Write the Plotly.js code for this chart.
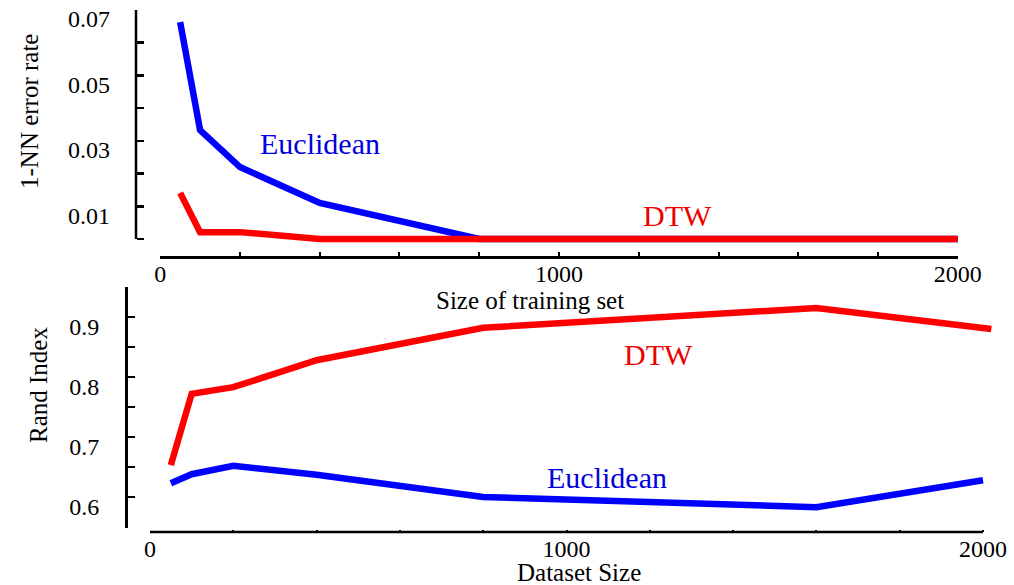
<!DOCTYPE html>
<html>
<head>
<meta charset="utf-8">
<script src="https://cdn.plot.ly/plotly-3.0.1.min.js"></script>
<style>html,body{margin:0;padding:0;background:#fff;}#chart{width:1014px;height:585px;}</style>
</head>
<body>
<div id="chart"></div>
<script>
// ---- data ----
const trainSize = [50, 100, 200, 400, 800, 1600, 2000];
const errEuclidean = [0.0663, 0.0333, 0.0220, 0.0110, 0, 0, 0];
const errDTW = [0.0141, 0.0021, 0.0021, 0, 0, 0, 0];

const dataSizeEuclid = [50, 100, 200, 400, 800, 1600, 2000];
const randEuclidean = [0.623, 0.638, 0.652, 0.637, 0.600, 0.583, 0.628];
const dataSizeDTW = [50, 100, 200, 400, 800, 1600, 2020];
const randDTW = [0.653, 0.772, 0.783, 0.828, 0.882, 0.915, 0.880];

const xTickVals = [0, 200, 400, 600, 800, 1000, 1200, 1400, 1600, 1800, 2000];
const xTickText = ['0', '', '', '', '', '1000', '', '', '', '', '2000'];
const errTickVals = [0, 0.01, 0.02, 0.03, 0.04, 0.05, 0.06, 0.07];
const errTickText = ['', '0.01', '', '0.03', '', '0.05', '', '0.07'];
const randTickVals = [0.55, 0.6, 0.65, 0.7, 0.75, 0.8, 0.85, 0.9, 0.95];
const randTickText = ['', '0.6', '', '0.7', '', '0.8', '', '0.9', ''];

// ---- layout helpers ----
const W = 1014, H = 585;
const px = v => v / W;
const py = v => 1 - v / H;
const FONT = 'Liberation Serif, Times New Roman, serif';
const BLUE = '#0000ff', RED = '#ff0000';
const LW = 6.5;

const traces = [
  {x: trainSize, y: errEuclidean, xaxis: 'x', yaxis: 'y', mode: 'lines', line: {color: BLUE, width: LW}},
  {x: trainSize, y: errDTW, xaxis: 'x', yaxis: 'y', mode: 'lines', line: {color: RED, width: LW}},
  {x: dataSizeDTW, y: randDTW, xaxis: 'x2', yaxis: 'y2', mode: 'lines', line: {color: RED, width: LW}},
  {x: dataSizeEuclid, y: randEuclidean, xaxis: 'x2', yaxis: 'y2', mode: 'lines', line: {color: BLUE, width: LW}}
];

const tickFont = {family: FONT, size: 24, color: '#000'};
const titleFont = {family: FONT, size: 25, color: '#000'};
const labelSize = 30;
const errPxPerUnit = 229 / 0.07;

const layout = {
  width: W, height: H,
  margin: {l: 0, r: 0, t: 0, b: 0},
  paper_bgcolor: '#fff', plot_bgcolor: 'rgba(0,0,0,0)',
  showlegend: false, hovermode: false,
  font: {family: FONT, color: '#000'},
  xaxis: {
    domain: [px(160), px(958)], range: [-0.5, 2000.5], anchor: 'free', position: py(257),
    showline: true, linecolor: '#000', linewidth: 2.5, showgrid: false, zeroline: false,
    ticks: 'inside', ticklen: 4, tickwidth: 2, tickcolor: '#000',
    tickmode: 'array', tickvals: xTickVals, ticktext: xTickText,
    tickfont: tickFont, ticklabelstandoff: -5
  },
  yaxis: {
    domain: [py(243), py(9)], range: [-4 / errPxPerUnit, 0.07 + 1 / errPxPerUnit], anchor: 'free', position: px(136),
    showline: false, showgrid: false, zeroline: false,
    ticks: 'inside', ticklen: 7, tickwidth: 2.5, tickcolor: '#000',
    tickmode: 'array', tickvals: errTickVals, ticktext: errTickText,
    tickfont: tickFont, ticklabelstandoff: 26, ticklabelshift: 9
  },
  xaxis2: {
    domain: [px(150), px(150 + 2030 * 833 / 2000)], range: [0, 2030], anchor: 'free', position: py(532),
    showline: false, showgrid: false, zeroline: false,
    ticks: 'inside', ticklen: 2.5, tickwidth: 2, tickcolor: '#000',
    tickmode: 'array', tickvals: xTickVals, ticktext: xTickText,
    tickfont: tickFont, ticklabelstandoff: 0
  },
  yaxis2: {
    domain: [py(527.5), py(286.5)], range: [0.55 - 0.0008, 0.95 + 0.0008], anchor: 'free', position: px(126),
    showline: true, linecolor: '#000', linewidth: 2.5, showgrid: false, zeroline: false,
    ticks: 'inside', ticklen: 7, tickwidth: 2.5, tickcolor: '#000',
    tickmode: 'array', tickvals: randTickVals, ticktext: randTickText,
    tickfont: tickFont, ticklabelstandoff: 21, ticklabelshift: 10
  },
  shapes: [
    {type: 'line', xref: 'paper', yref: 'y', x0: px(136), x1: px(136), y0: 0, y1: 0.07,
     line: {color: '#000', width: 2.5}},
    {type: 'line', xref: 'paper', yref: 'paper', x0: px(150), x1: px(983), y0: py(532), y1: py(532),
     line: {color: '#000', width: 2.5}}
  ],
  annotations: [
    {text: '1-NN error rate', xref: 'paper', yref: 'paper', x: px(30), y: py(112), textangle: -90,
     showarrow: false, xanchor: 'center', yanchor: 'middle', font: titleFont},
    {text: 'Size of training set', xref: 'paper', yref: 'paper', x: px(530), y: py(300),
     showarrow: false, xanchor: 'center', yanchor: 'middle', font: titleFont},
    {text: 'Rand Index', xref: 'paper', yref: 'paper', x: px(38), y: py(385), textangle: -90,
     showarrow: false, xanchor: 'center', yanchor: 'middle', font: titleFont},
    {text: 'Dataset Size', xref: 'paper', yref: 'paper', x: px(579), y: py(572),
     showarrow: false, xanchor: 'center', yanchor: 'middle', font: titleFont},
    {text: 'Euclidean', xref: 'x', yref: 'y', x: 401, y: 0.0293,
     showarrow: false, xanchor: 'center', yanchor: 'middle', font: {family: FONT, size: labelSize, color: '#0000dd'}},
    {text: 'DTW', xref: 'x', yref: 'y', x: 1298, y: 0.0073,
     showarrow: false, xanchor: 'center', yanchor: 'middle', font: {family: FONT, size: labelSize, color: '#ee0000'}},
    {text: 'DTW', xref: 'x2', yref: 'y2', x: 1222, y: 0.838,
     showarrow: false, xanchor: 'center', yanchor: 'middle', font: {family: FONT, size: labelSize, color: '#ee0000'}},
    {text: 'Euclidean', xref: 'x2', yref: 'y2', x: 1097, y: 0.633,
     showarrow: false, xanchor: 'center', yanchor: 'middle', font: {family: FONT, size: labelSize, color: '#0000dd'}}
  ]
};

Plotly.newPlot('chart', traces, layout, {staticPlot: true, displayModeBar: false});
</script>
</body>
</html>
